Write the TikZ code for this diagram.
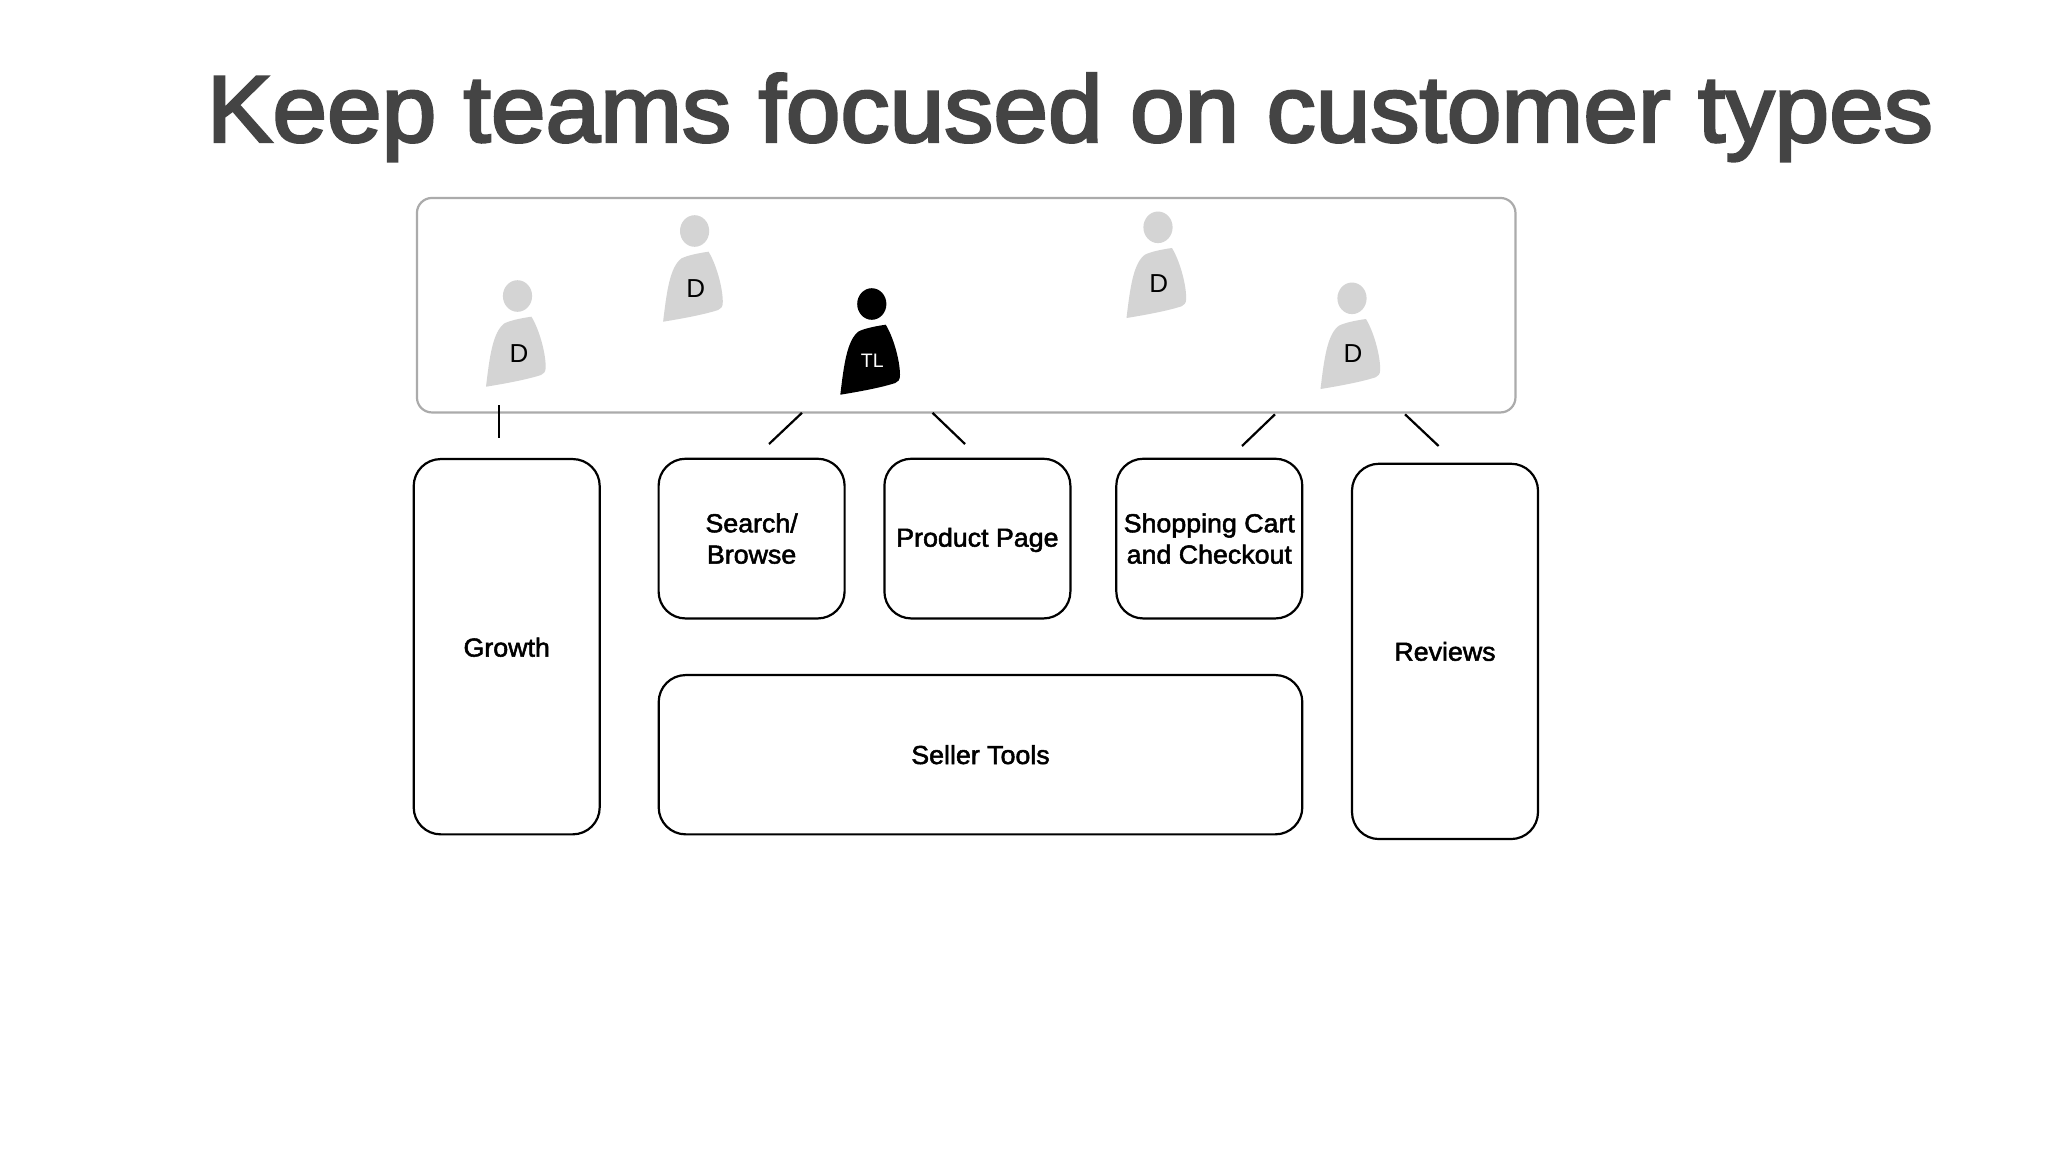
\documentclass[tikz,border=0pt]{standalone}
\usepackage{fontspec}
\setmainfont{Liberation Sans}
\newfontfamily\titlefont[FakeBold=2.8,FakeStretch=1.04]{Liberation Sans}
\newfontfamily\labelfont[FakeBold=2,FakeStretch=1.03]{Liberation Sans}
\definecolor{titlegray}{HTML}{444444}
\definecolor{persongray}{HTML}{D4D4D4}
\definecolor{teamgray}{HTML}{ABABAB}
\tikzset{
  team/.style={draw=teamgray,line width=2.2pt,rounded corners=15pt,fill=white},
  area/.style={draw=black,line width=2.2pt,rounded corners=27pt,fill=white,align=center,inner sep=0pt,
    font=\fontsize{26pt}{31.3pt}\labelfont,text=black},
  link/.style={draw=black,line width=2.2pt},
  dev/.style={inner sep=0pt,font=\fontsize{26pt}{28pt}\selectfont,text=black},
  lead/.style={inner sep=0pt,font=\fontsize{19.5pt}{22pt}\selectfont,text=white},
}
\newcommand{\personshape}[3]{%
  \fill[#3,shift={(#1,#2)}] (0,0) ellipse [x radius=14.6,y radius=15.8];
  \fill[#3,shift={(#1,#2)}] (-31.5,90.7)
    .. controls (-28,62) and (-25,36) .. (-13,27.3)
    .. controls (-6,24) and (5,22) .. (13.9,20.7)
    .. controls (21,32) and (28,55) .. (28.2,70.7)
    .. controls (28.4,76) and (26,78) .. (23.5,79)
    .. controls (8,84) and (-15,88) .. (-31.5,90.7) -- cycle;
}
\begin{document}
\begin{tikzpicture}[x=1pt,y=-1pt]
\useasboundingbox (0,0) rectangle (2048,1152);
\fill[white] (0,0) rectangle (2048,1152);
\node[anchor=base,inner sep=0pt,text=titlegray,font=\fontsize{94.5pt}{100pt}\titlefont] (title) at (1070,141.7) {Keep teams focused on customer types};
\node[team,minimum width=1098.5pt,minimum height=214.5pt,inner sep=0pt] (teambox) at (966.2,305.2) {};
\personshape{517.5}{296}{persongray}
\personshape{694.6}{231}{persongray}
\personshape{871.8}{304}{black}
\personshape{1158}{227.3}{persongray}
\personshape{1352}{298.3}{persongray}
\node[dev] (d1) at (519,353.2) {D};
\node[dev] (d2) at (695.8,288.2) {D};
\node[lead] (tl) at (872.3,360.7) {TL};
\node[dev] (d3) at (1158.8,284) {D};
\node[dev] (d4) at (1353,354) {D};
\node[area,minimum width=186pt,minimum height=375.3pt] (growth) at (506.7,646.7) {\rule{0pt}{20pt}Growth};
\node[area,minimum width=186pt,minimum height=159.7pt] (search) at (751.6,538.6) {Search/\\Browse};
\node[area,minimum width=186pt,minimum height=159.7pt] (product) at (977.4,538.6) {\rule{0pt}{21.5pt}Product Page};
\node[area,minimum width=186pt,minimum height=159.7pt] (cart) at (1209.3,538.6) {Shopping Cart\\and Checkout};
\node[area,minimum width=643.6pt,minimum height=159.3pt] (seller) at (980.5,754.7) {Seller Tools};
\node[area,minimum width=186pt,minimum height=375.3pt] (reviews) at (1445,651.4) {Reviews};
\coordinate (a1) at (499,405);
\coordinate (a2) at (499,438.3);
\coordinate (b1) at (802,412.8);
\coordinate (b2) at (769,444);
\coordinate (c1) at (932.5,412.8);
\coordinate (c2) at (965,444);
\coordinate (e1) at (1275,414.3);
\coordinate (e2) at (1242,446);
\coordinate (f1) at (1405,414.3);
\coordinate (f2) at (1438.6,446);
\draw[link] (a1) -- (a2);
\draw[link] (b1) -- (b2);
\draw[link] (c1) -- (c2);
\draw[link] (e1) -- (e2);
\draw[link] (f1) -- (f2);
\end{tikzpicture}
\end{document}
